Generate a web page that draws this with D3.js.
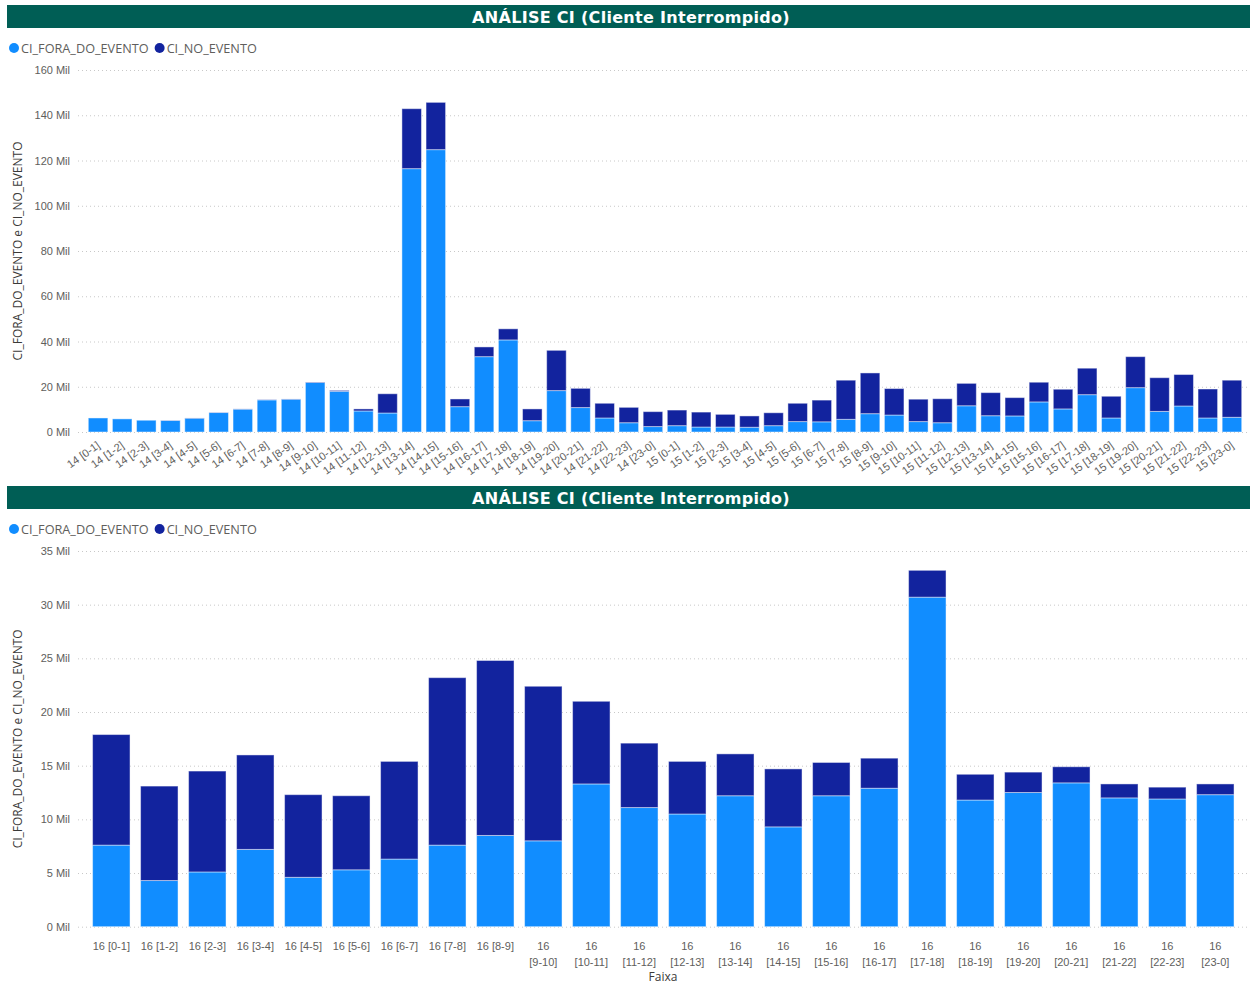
<!DOCTYPE html>
<meta charset="utf-8">
<style>
body { margin: 0; background: #fff; }
svg { display: block; font-family: "Open Sans", sans-serif; }
.grid line { stroke: #c8c8c8; stroke-dasharray: 1,3; }
.grid path { display: none; }
.axis text { fill: #605e5c; font-size: 11px; }
.axis path, .axis line { display: none; }
.legend text { fill: #605e5c; font-size: 12.7px; }
.ytitle { fill: #3b3a39; font-size: 12px; }
.title { fill: #fff; font-family: "DejaVu Sans", sans-serif; font-weight: bold; font-size: 16px; letter-spacing: 0.3px; }
</style>
<svg width="1254" height="984"></svg>
<script src="https://d3js.org/d3.v7.min.js"></script>
<script>

// day 14/15 hourly buckets
const topCategories = [
  "14 [0-1]","14 [1-2]","14 [2-3]","14 [3-4]","14 [4-5]","14 [5-6]","14 [6-7]","14 [7-8]",
  "14 [8-9]","14 [9-10]","14 [10-11]","14 [11-12]","14 [12-13]","14 [13-14]","14 [14-15]","14 [15-16]",
  "14 [16-17]","14 [17-18]","14 [18-19]","14 [19-20]","14 [20-21]","14 [21-22]","14 [22-23]","14 [23-0]",
  "15 [0-1]","15 [1-2]","15 [2-3]","15 [3-4]","15 [4-5]","15 [5-6]","15 [6-7]","15 [7-8]",
  "15 [8-9]","15 [9-10]","15 [10-11]","15 [11-12]","15 [12-13]","15 [13-14]","15 [14-15]","15 [15-16]",
  "15 [16-17]","15 [17-18]","15 [18-19]","15 [19-20]","15 [20-21]","15 [21-22]","15 [22-23]","15 [23-0]"
];
// values in Mil
const topFora = [
  6.2, 5.8, 5.2, 5.1, 6.1, 8.6, 10.1, 14.2,
  14.5, 21.9, 18.0, 9.3, 8.4, 116.4, 124.8, 11.2,
  33.3, 40.7, 5.0, 18.3, 10.8, 6.2, 4.1, 2.4,
  2.8, 2.2, 2.2, 2.1, 2.8, 4.6, 4.5, 5.6,
  8.1, 7.5, 4.6, 4.1, 11.6, 7.2, 7.1, 13.3,
  10.2, 16.5, 6.2, 19.6, 9.1, 11.5, 6.2, 6.5
];
const topNo = [
  0.0, 0.0, 0.0, 0.1, 0.1, 0.1, 0.1, 0.1,
  0.1, 0.2, 0.4, 0.9, 8.5, 26.5, 20.9, 3.4,
  4.3, 4.9, 5.2, 17.8, 8.5, 6.5, 6.8, 6.6,
  6.9, 6.6, 5.6, 5.0, 5.7, 8.1, 9.6, 17.3,
  18.0, 11.7, 9.9, 10.6, 9.9, 10.2, 8.1, 8.7,
  8.7, 11.7, 9.6, 13.7, 14.9, 13.9, 12.8, 16.4
];
const topTicks = [0, 20, 40, 60, 80, 100, 120, 140, 160];

// day 16 hourly buckets
const bottomCategories = [
  "16 [0-1]","16 [1-2]","16 [2-3]","16 [3-4]","16 [4-5]","16 [5-6]","16 [6-7]","16 [7-8]",
  "16 [8-9]","16 [9-10]","16 [10-11]","16 [11-12]","16 [12-13]","16 [13-14]","16 [14-15]","16 [15-16]",
  "16 [16-17]","16 [17-18]","16 [18-19]","16 [19-20]","16 [20-21]","16 [21-22]","16 [22-23]","16 [23-0]"
];
const bottomFora = [
  7.6, 4.3, 5.1, 7.2, 4.6, 5.3, 6.3, 7.6,
  8.5, 8.0, 13.3, 11.1, 10.5, 12.2, 9.3, 12.2,
  12.9, 30.7, 11.8, 12.5, 13.4, 12.0, 11.9, 12.3
];
const bottomNo = [
  10.3, 8.8, 9.4, 8.8, 7.7, 6.9, 9.1, 15.6,
  16.3, 14.4, 7.7, 6.0, 4.9, 3.9, 5.4, 3.1,
  2.8, 2.5, 2.4, 1.9, 1.5, 1.3, 1.1, 1.0
];
const bottomTicks = [0, 5, 10, 15, 20, 25, 30, 35];

const seriesNames = ["CI_FORA_DO_EVENTO", "CI_NO_EVENTO"];
const colors = ["#118dff", "#12239e"];
const titleText = "ANÁLISE CI (Cliente Interrompido)";

const svg = d3.select("svg");

function drawPanel(opt) {
  const g = svg.append("g");

  // header band
  g.append("rect")
      .attr("x", 7).attr("y", opt.top)
      .attr("width", 1243).attr("height", 23)
      .attr("fill", "#005e55");
  g.append("text")
      .attr("class", "title")
      .attr("x", 631).attr("y", opt.top + 17.5)
      .attr("text-anchor", "middle")
      .text(titleText);

  // legend
  const leg = g.append("g").attr("class", "legend");
  let lx = 14;
  seriesNames.forEach((name, i) => {
    leg.append("circle").attr("cx", lx).attr("cy", opt.top + 43).attr("r", 5).attr("fill", colors[i]);
    const t = leg.append("text").attr("x", lx + 7).attr("y", opt.top + 47.5).text(name);
    lx += 7 + t.node().getComputedTextLength() + 11;
  });

  const x = d3.scaleBand()
      .domain(opt.categories)
      .range(opt.xRange)
      .paddingInner(opt.pad)
      .paddingOuter(opt.pad / 2);

  const y = d3.scaleLinear()
      .domain([0, d3.max(opt.ticks)])
      .range([opt.y0, opt.yTop]);

  g.append("g")
      .attr("class", "grid")
      .attr("transform", "translate(78,0)")
      .call(d3.axisRight(y).tickValues(opt.ticks).tickSize(1172).tickFormat(""));

  g.append("g")
      .attr("class", "axis")
      .attr("transform", "translate(70,0)")
      .call(d3.axisLeft(y).tickValues(opt.ticks).tickSize(0).tickPadding(0).tickFormat(d => d + " Mil"));

  g.append("text")
      .attr("class", "ytitle")
      .attr("transform", "translate(22," + ((opt.y0 + opt.yTop) / 2) + ") rotate(-90)")
      .attr("text-anchor", "middle")
      .text("CI_FORA_DO_EVENTO e CI_NO_EVENTO");

  const rows = opt.categories.map((c, i) => ({cat: c, fora: opt.fora[i], no: opt.no[i]}));
  const stacked = d3.stack().keys(["fora", "no"])(rows);

  g.selectAll(".series")
    .data(stacked)
    .join("g")
      .attr("fill", (d, i) => colors[i])
    .selectAll("rect")
    .data(d => d)
    .join("rect")
      .attr("x", d => x(d.data.cat))
      .attr("y", d => y(d[1]))
      .attr("width", x.bandwidth())
      .attr("height", d => Math.max(0, y(d[0]) - y(d[1])))
      .attr("stroke", "#fff")
      .attr("stroke-opacity", 0.45)
      .attr("stroke-width", 1);

  const xa = g.append("g")
      .attr("class", "axis")
      .attr("transform", "translate(0," + opt.y0 + ")")
      .call(d3.axisBottom(x).tickSize(0).tickPadding(opt.rotate ? 6 : 16));

  if (opt.rotate) {
    xa.selectAll("text")
        .attr("text-anchor", "end")
        .attr("dy", "0.35em")
        .attr("transform", "translate(-3,7) rotate(-35)");
  } else {
    xa.selectAll("text").each(function(d) {
      const t = d3.select(this);
      if (this.getComputedTextLength() > x.bandwidth() + 3) {
        const parts = d.split(" ");
        t.text(null);
        t.append("tspan").attr("x", 0).attr("dy", "0.71em").text(parts[0]);
        t.append("tspan").attr("x", 0).attr("dy", "1.45em").text(parts[1]);
      }
    });
    g.append("text")
        .attr("x", 663).attr("y", opt.y0 + 54)
        .attr("text-anchor", "middle")
        .attr("fill", "#3b3a39")
        .style("font-size", "12px")
        .text("Faixa");
  }
}

drawPanel({
  top: 5, categories: topCategories, fora: topFora, no: topNo, ticks: topTicks,
  xRange: [86, 1244], pad: 0.19, y0: 432, yTop: 70, rotate: true
});

drawPanel({
  top: 486, categories: bottomCategories, fora: bottomFora, no: bottomNo, ticks: bottomTicks,
  xRange: [87.3, 1239.3], pad: 0.22, y0: 926.7, yTop: 551, rotate: false
});

</script>
